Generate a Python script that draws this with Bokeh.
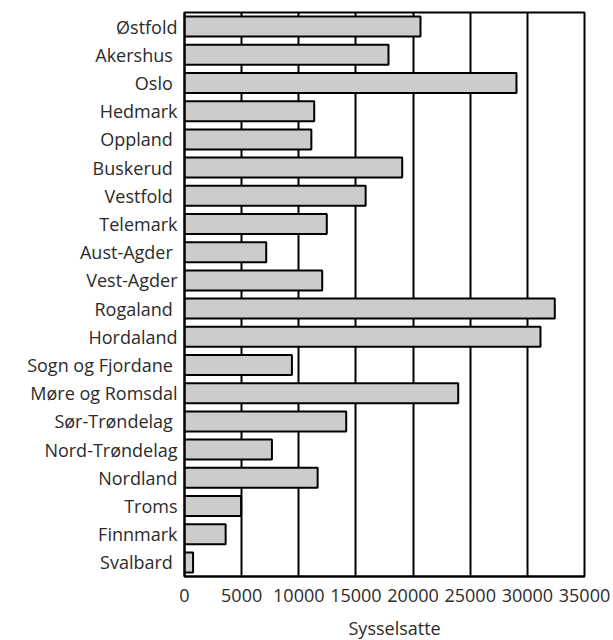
from bokeh.plotting import figure
from bokeh.models import ColumnDataSource, FactorRange, Range1d, FixedTicker, Title
from bokeh.embed import file_html
from bokeh.resources import INLINE

NB = "\u00a0"
counties = [
    "Østfold", "Akershus" + NB, "Oslo" + NB, "Hedmark", "Oppland" + NB,
    "Buskerud" + NB, "Vestfold" + NB, "Telemark", "Aust-Agder" + NB, "Vest-Agder",
    "Rogaland" + NB, "Hordaland", "Sogn og Fjordane" + NB, "Møre og Romsdal",
    "Sør-Trøndelag" + NB, "Nord-Trøndelag", "Nordland", "Troms", "Finnmark",
    "Svalbard" + NB,
]
employed = [
    20650, 17850, 29050, 11350, 11100,
    19050, 15850, 12450, 7150, 12050,
    32400, 31150, 9400, 23950,
    14150, 7650, 11650, 4950, 3600,
    750,
]
x_ticks = [0, 5000, 10000, 15000, 20000, 25000, 30000, 35000]
x_title = "Sysselsatte"

FONT = "Open Sans"
TXT = "#2b2b2b"

src = ColumnDataSource(data=dict(county=counties, value=employed))

p = figure(
    frame_width=400, frame_height=564,
    y_range=FactorRange(factors=list(reversed(counties))),
    x_range=Range1d(0, 35000),
    output_backend="svg", toolbar_location=None,
    min_border_left=184, min_border_right=28,
    min_border_top=12, min_border_bottom=0,
)
p.hbar(y="county", right="value", left=0, height=0.71, source=src,
       fill_color="#cccccc", line_color="black", line_width=2)

p.outline_line_color = "black"
p.outline_line_width = 2
p.background_fill_color = "white"
p.border_fill_color = "white"

p.ygrid.grid_line_color = None
p.xgrid.grid_line_color = "black"
p.xgrid.grid_line_width = 2
p.xaxis.ticker = FixedTicker(ticks=x_ticks)
p.xaxis.minor_tick_line_color = None
p.xaxis.major_tick_in = 0
p.xaxis.major_tick_out = 0
p.xaxis.axis_line_width = 2
p.xaxis.major_label_standoff = 12
p.yaxis.major_tick_in = 0
p.yaxis.major_tick_out = 0
p.yaxis.axis_line_width = 2
p.yaxis.major_label_standoff = 7
for ax in (p.xaxis, p.yaxis):
    ax.major_label_text_font = FONT
    ax.major_label_text_font_size = "18px"
    ax.major_label_text_color = TXT

title_kw = dict(text=x_title, align="left", offset=160, text_font=FONT,
                text_font_size="18px", text_font_style="normal", text_color=TXT)
if "padding" in Title.properties():
    title_kw["padding"] = 4
else:
    title_kw["offset"] = 164
p.add_layout(Title(**title_kw), "below")

open("out.html", "w").write(file_html(p, INLINE))
